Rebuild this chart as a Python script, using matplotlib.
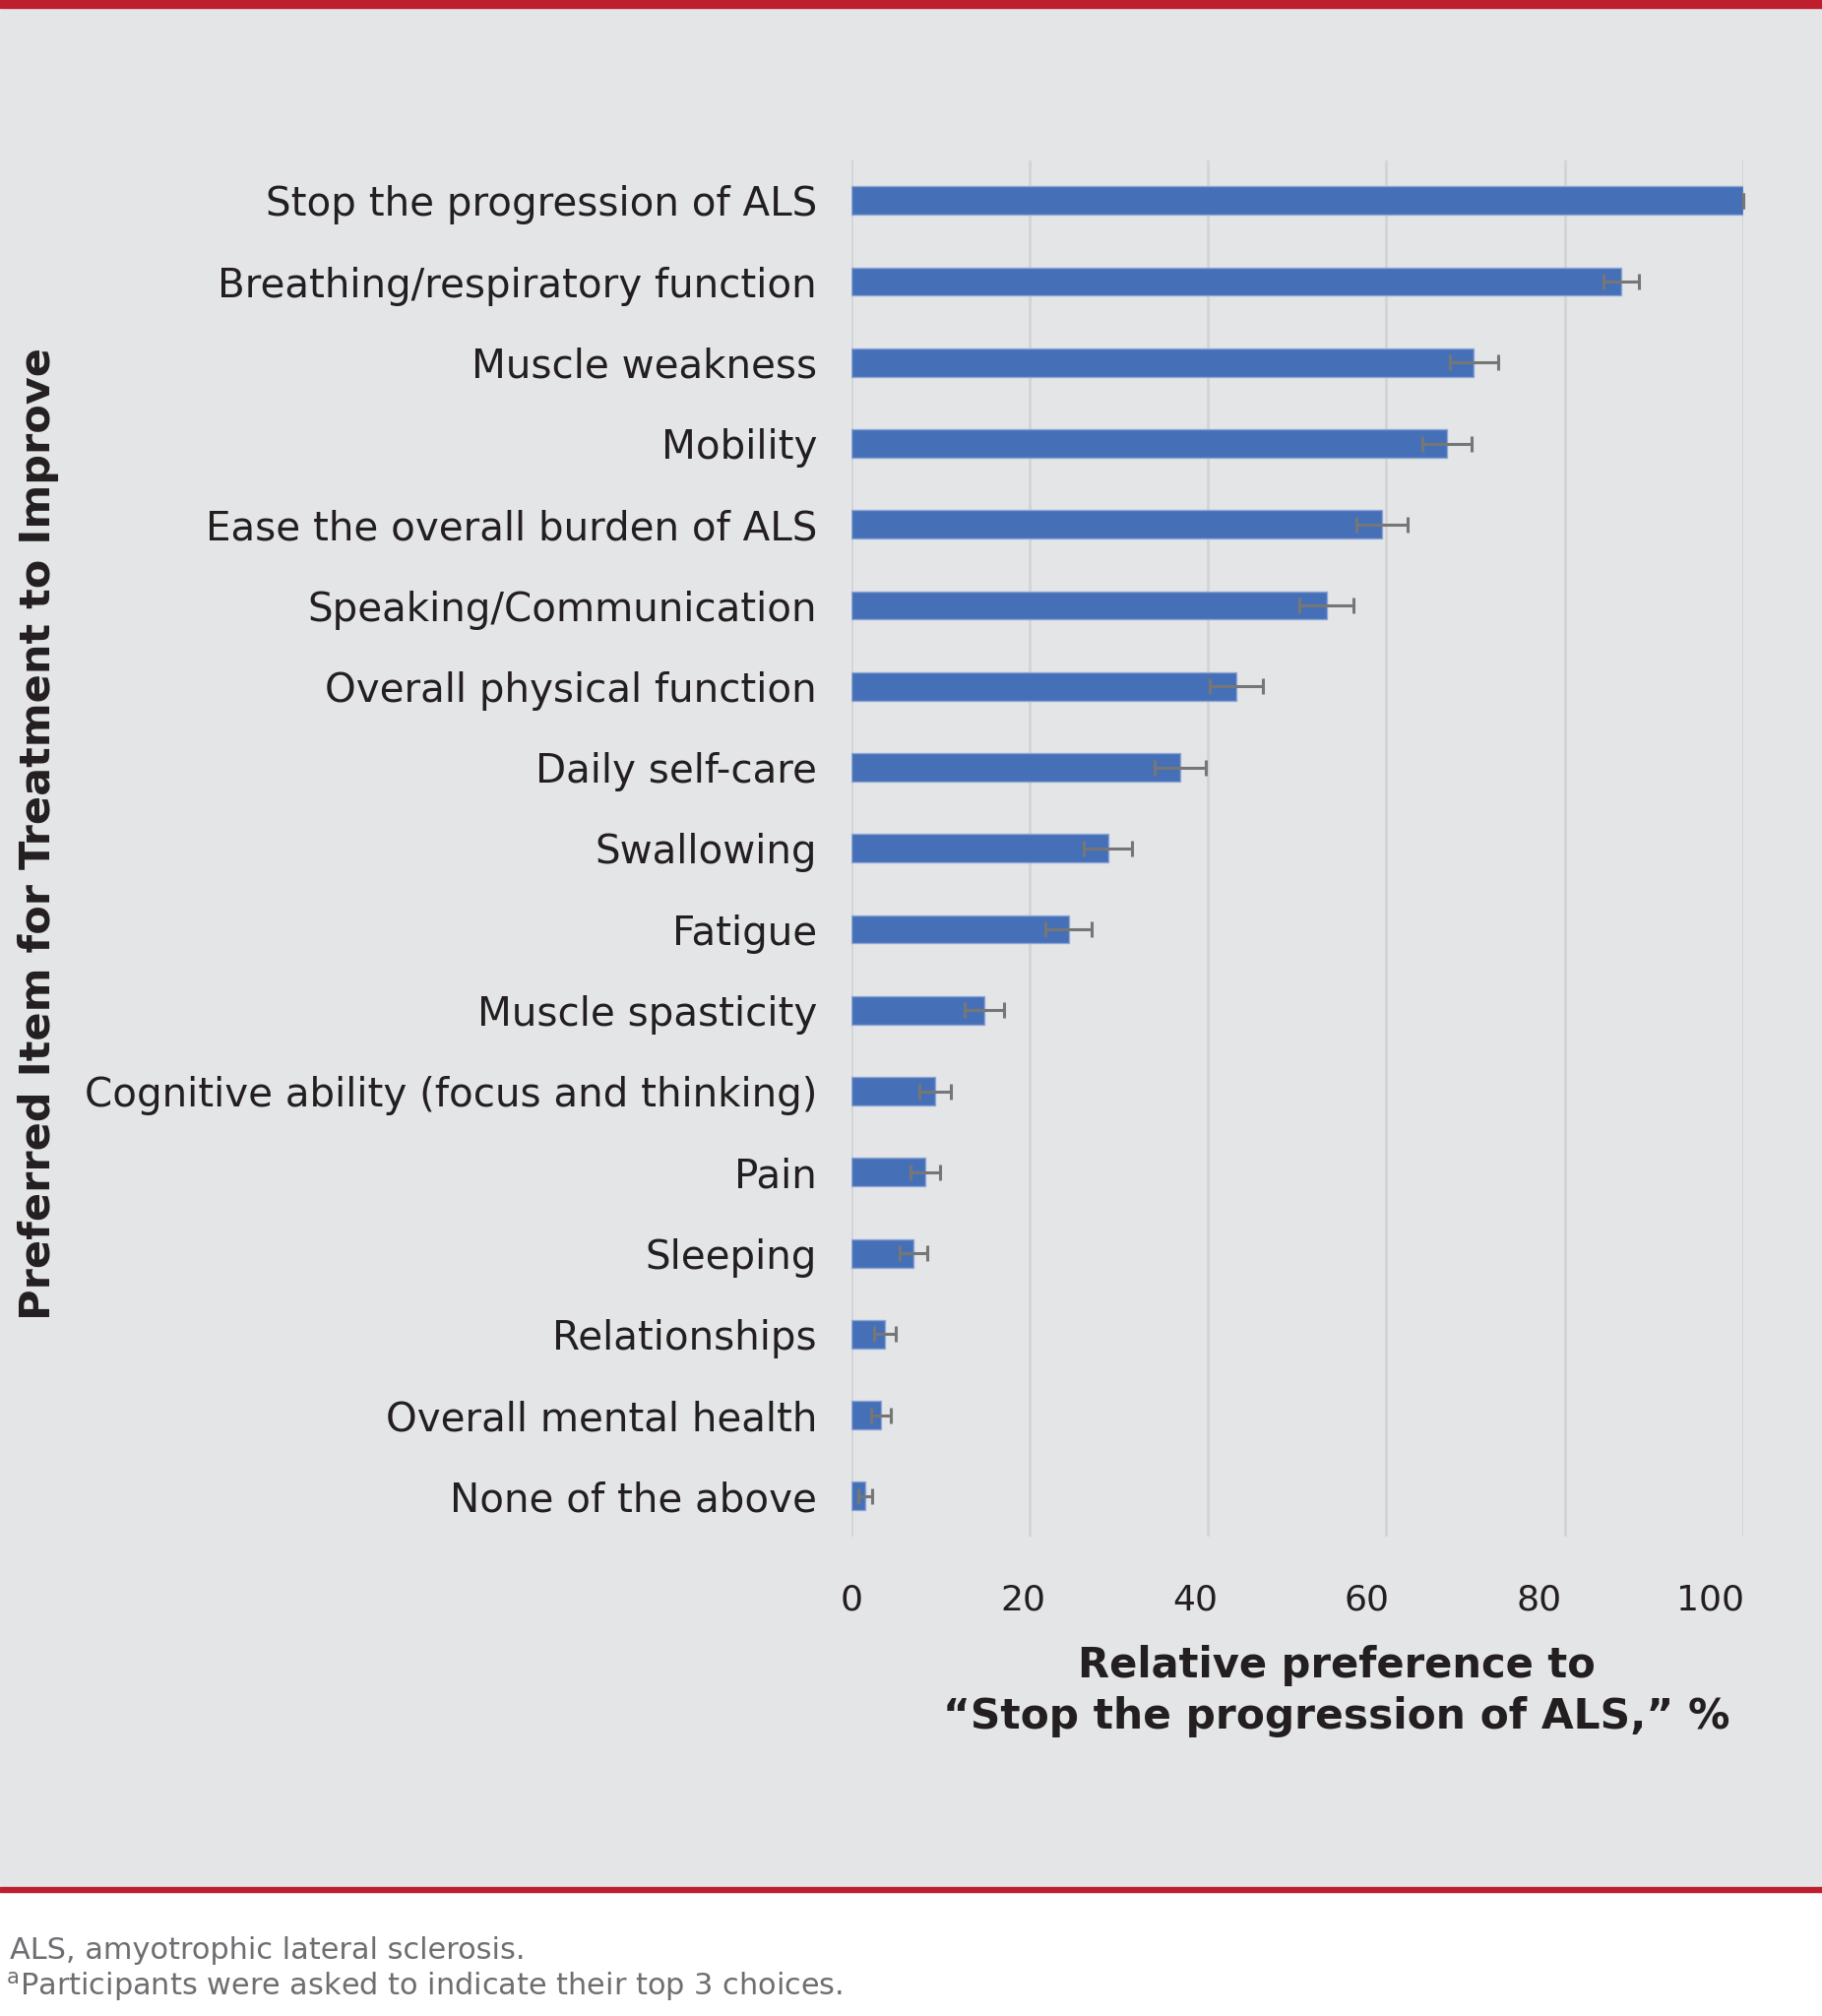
import numpy as np
import matplotlib
matplotlib.use("Agg")
from matplotlib import pyplot as plt
from matplotlib.patches import Rectangle
from matplotlib.transforms import offset_copy

# data
items = ['Stop the progression of ALS', 'Breathing/respiratory function', 'Muscle weakness',
         'Mobility', 'Ease the overall burden of ALS', 'Speaking/Communication',
         'Overall physical function', 'Daily self-care', 'Swallowing', 'Fatigue',
         'Muscle spasticity', 'Cognitive ability (focus and thinking)', 'Pain', 'Sleeping',
         'Relationships', 'Overall mental health', 'None of the above']
pref = [100, 86.3, 69.8, 66.8, 59.5, 53.3, 43.2, 36.9, 28.8, 24.4, 14.9, 9.4, 8.3, 6.95, 3.75, 3.35, 1.6]
err = [0, 2.0, 2.7, 2.8, 2.9, 3.0, 3.0, 2.9, 2.7, 2.6, 2.2, 1.75, 1.7, 1.55, 1.2, 1.15, 0.8]
xticks = [0, 20, 40, 60, 80, 100]

W, H = 1851, 2048
bg = '#E4E5E7'
red = '#BE1E2D'
dark = '#231F20'

fig = plt.figure(figsize=(W/100, H/100), dpi=100)
fig.patch.set_facecolor(bg)

# bands: red top line, red line above footnote, white footnote area
fig.patches.append(Rectangle((0, 1 - 8/H), 1, 8/H, transform=fig.transFigure, color=red, zorder=-10))
fig.patches.append(Rectangle((0, 0), 1, (H - 1922)/H, transform=fig.transFigure, color='white', zorder=-10))
fig.patches.append(Rectangle((0, (H - 1922)/H), 1, 5/H, transform=fig.transFigure, color=red, zorder=-10))

# axes in pixel positions
x0, x1 = 864.7, 1770.8
ytop, ybot = 162.7, 1561
ax = fig.add_axes([x0/W, 1 - ybot/H, (x1 - x0)/W, (ybot - ytop)/H])
ax.set_facecolor(bg)

y = np.arange(len(items))
ax.barh(y, pref, height=0.35, color='#4570B8', edgecolor='#8EA5D4', linewidth=1, zorder=3)
ax.errorbar(pref, y, xerr=err, fmt='none', ecolor='#767676', elinewidth=2.2,
            capsize=5.5, capthick=2.2, zorder=4, clip_on=False)

ax.set_xlim(0, 100)
ax.set_ylim(16.5, -0.5)
ax.set_yticks(y)
ax.set_yticklabels(items, fontsize=29.1, color=dark)
ax.set_xticks(xticks)
ax.set_xticklabels([str(t) for t in xticks], fontsize=26, color=dark)
ax.tick_params(axis='y', length=0, pad=25)
ax.tick_params(axis='x', length=0, pad=34)
ax.grid(axis='x', color='#D3D4D6', linewidth=2, zorder=0)
for s in ax.spines.values():
    s.set_visible(False)

# the tick numbers in the original sit a bit left of their gridlines, more so to the right
fig.canvas.draw()
for t, lab in zip(xticks, ax.get_xticklabels()):
    lab.set_transform(offset_copy(lab.get_transform(), fig=fig, x=-0.33 * t, y=0, units='dots'))

# axis titles
fig.text(1358/W, 1 - 1692/H, 'Relative preference to', ha='center', va='center',
         fontsize=30, fontweight='bold', color=dark)
fig.text(1358/W, 1 - 1744/H, '\u201cStop the progression of ALS,\u201d %', ha='center', va='center',
         fontsize=30.5, fontweight='bold', color=dark)
fig.text(39/W, 1 - 847/H, 'Preferred Item for Treatment to Improve', rotation=90,
         ha='center', va='center', fontsize=31, fontweight='bold', color=dark)

# footnotes
fig.text(10/W, 1 - 1982/H, 'ALS, amyotrophic lateral sclerosis.', ha='left', va='center',
         fontsize=21.9, color='#6D6E71')
fig.text(6/W, 1 - 2018/H, r'$^{\mathregular{a}}$Participants were asked to indicate their top 3 choices.',
         ha='left', va='center', fontsize=21.9, color='#6D6E71')

fig.savefig('out.png', dpi=100, facecolor=fig.get_facecolor())
